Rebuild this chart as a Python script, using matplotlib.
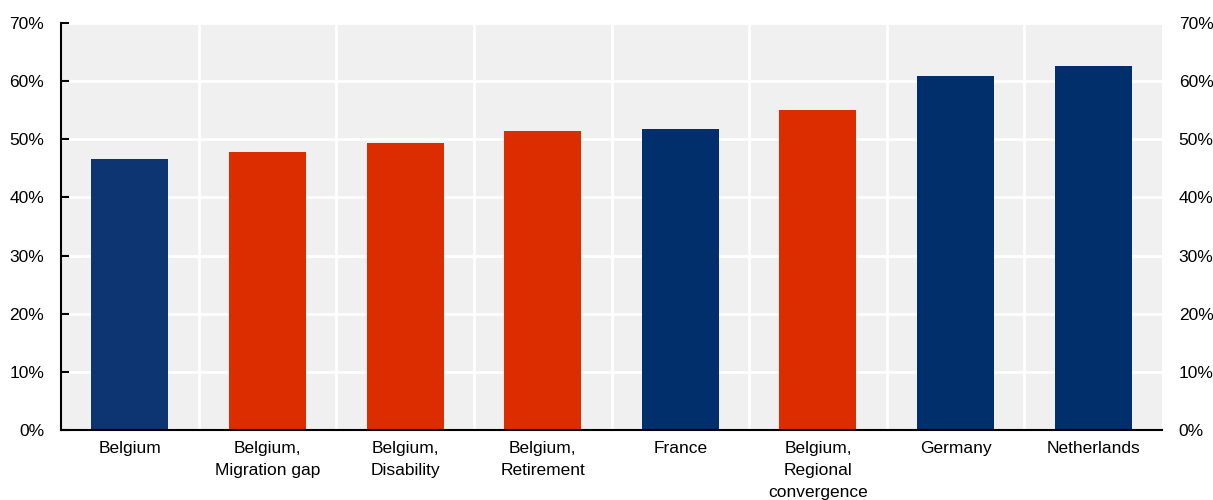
import matplotlib
matplotlib.use("Agg")
import matplotlib.pyplot as plt
from matplotlib.ticker import FuncFormatter, MultipleLocator

plt.rcParams['font.family'] = ['Liberation Sans', 'DejaVu Sans']

categories = ["Belgium", "Belgium,\nMigration gap", "Belgium,\nDisability", "Belgium,\nRetirement",
              "France", "Belgium,\nRegional\nconvergence", "Germany", "Netherlands"]
values = [46.6, 47.8, 49.4, 51.4, 51.8, 55.0, 60.9, 62.6]
colors = ["#0c3571", "#dc2d00", "#dc2d00", "#dc2d00", "#002f6c", "#dc2d00", "#002f6c", "#002f6c"]

fig = plt.figure(figsize=(12.13, 5.0), dpi=100)
ax = fig.add_axes([61 / 1213, 70 / 500, (1162 - 61) / 1213, (430 - 23) / 500])
ax.set_facecolor("#f0f0f0")

x = range(len(categories))
ax.bar(x, values, width=0.56, color=colors, zorder=3)

ax.set_xlim(-0.5, len(categories) - 0.5)
ax.set_ylim(0, 70)
ax.yaxis.set_major_locator(MultipleLocator(10))
ax.yaxis.set_major_formatter(FuncFormatter(lambda v, _: f"{v:.0f}%"))

# white separators between categories and horizontal gridlines
for b in range(1, len(categories)):
    ax.axvline(b - 0.5, color="white", lw=2, zorder=1)
ax.grid(axis="y", color="white", lw=2, zorder=1)

ax.set_xticks(list(x))
ax.set_xticklabels(categories, fontsize=12.5, linespacing=1.56)
ax.tick_params(axis="x", length=0, pad=8)
ax.tick_params(axis="y", direction="in", length=6, width=1.5, labelsize=12.5, pad=12,
               right=False, labelright=True)

for s in ["top", "right"]:
    ax.spines[s].set_visible(False)
for s in ["left", "bottom"]:
    ax.spines[s].set_linewidth(1.5)
    ax.spines[s].set_zorder(4)

fig.savefig("out.png", dpi=100)
